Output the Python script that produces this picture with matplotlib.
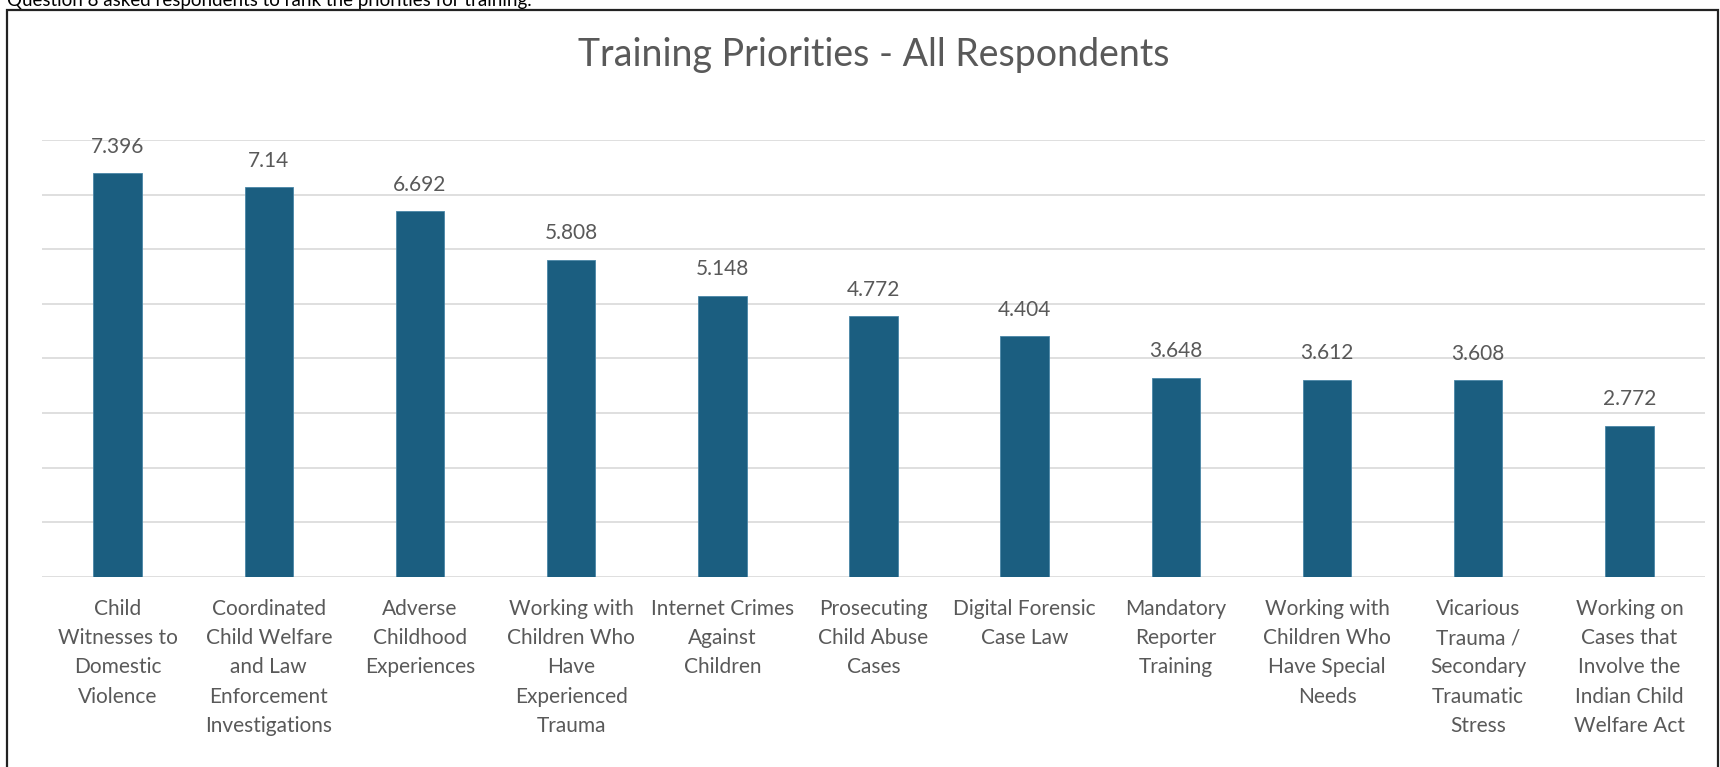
import matplotlib
matplotlib.use("Agg")
import matplotlib.pyplot as plt
from matplotlib.patches import Rectangle

plt.rcParams['font.family'] = ['Lato', 'DejaVu Sans']

categories = [
    "Child\nWitnesses to\nDomestic\nViolence",
    "Coordinated\nChild Welfare\nand Law\nEnforcement\nInvestigations",
    "Adverse\nChildhood\nExperiences",
    "Working with\nChildren Who\nHave\nExperienced\nTrauma",
    "Internet Crimes\nAgainst\nChildren",
    "Prosecuting\nChild Abuse\nCases",
    "Digital Forensic\nCase Law",
    "Mandatory\nReporter\nTraining",
    "Working with\nChildren Who\nHave Special\nNeeds",
    "Vicarious\nTrauma /\nSecondary\nTraumatic\nStress",
    "Working on\nCases that\nInvolve the\nIndian Child\nWelfare Act",
]
scores = [7.396, 7.14, 6.692, 5.808, 5.148, 4.772, 4.404, 3.648, 3.612, 3.608, 2.772]
score_labels = ["7.396", "7.14", "6.692", "5.808", "5.148", "4.772", "4.404",
                "3.648", "3.612", "3.608", "2.772"]

TEXT = '#595959'
BAR = '#1B5E80'
GRID = '#D9D9D9'

W, H = 1720, 767
fig = plt.figure(figsize=(W / 100, H / 100), dpi=100)

# frame around the chart (bottom runs off the image)
fig.patches.append(Rectangle((7 / W, -0.05), (1718 - 7) / W, 1.05 - 10 / H,
                             transform=fig.transFigure, fill=False,
                             edgecolor='#222222', linewidth=1.6))

# caption above the frame, mostly cut off by the top edge
fig.text(7 / W, 1 - 6 / H, "Question 8 asked respondents to rank the priorities for training.",
         fontsize=13.5, color='black', va='baseline', ha='left')

ax = fig.add_axes([42 / W, 1 - 577 / H, (1705 - 42) / W, (577 - 140) / H])
x = range(len(scores))
ax.bar(x, scores, width=0.32, color=BAR, edgecolor='#4A86A6', linewidth=0.6, zorder=3)

for xi, v, lab in zip(x, scores, score_labels):
    ax.annotate(lab, (xi, v), xytext=(0, 19), textcoords='offset points',
                ha='center', va='center', fontsize=15, color=TEXT)

ax.set_xlim(-0.5, len(scores) - 0.5)
ax.set_ylim(0, 8)
ax.set_yticks(range(0, 9))
ax.set_yticklabels([])
ax.yaxis.grid(True, color=GRID, linewidth=1.2, zorder=0)
ax.tick_params(axis='both', length=0)
ax.set_xticks(list(x))
ax.set_xticklabels(categories, fontsize=15, color=TEXT, linespacing=1.57)
ax.tick_params(axis='x', pad=16)
for s in ax.spines.values():
    s.set_visible(False)

fig.text(874 / W, 1 - 55 / H, "Training Priorities - All Respondents",
         fontsize=27, color=TEXT, ha='center', va='center')

fig.savefig("out.png", dpi=100, facecolor='white')
